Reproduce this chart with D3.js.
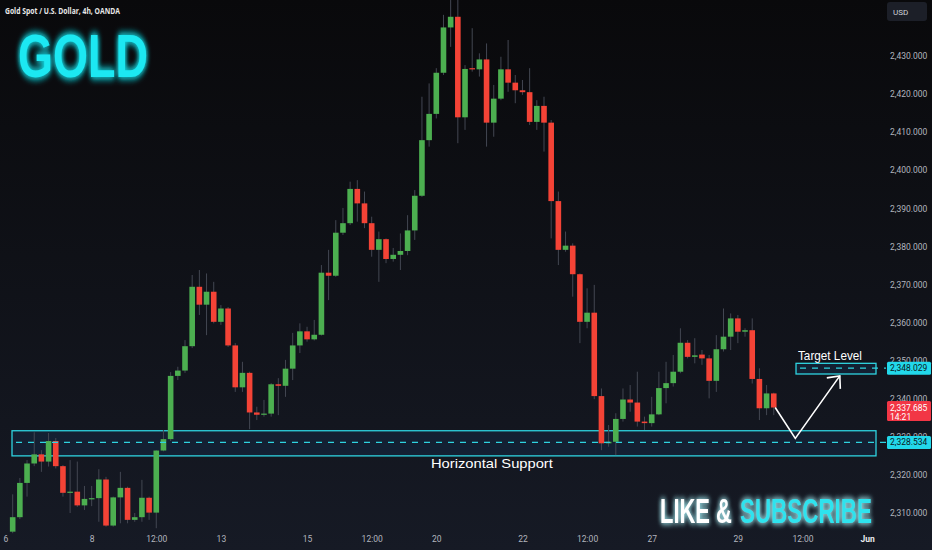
<!DOCTYPE html>
<html><head><meta charset="utf-8">
<script src="https://cdn.jsdelivr.net/npm/d3@7"></script>
<style>html,body{margin:0;padding:0;background:#0b0c10;}svg{display:block}</style>
</head><body>
<svg id="chart" width="932" height="550"></svg>
<script>
// ---- data (4h candles, index 1..107; index 0 = May 6 first bar) ----
const openVals = [2305.1,2308.9,2317.9,2323.0,2325.4,2323.5,2328.9,2322.3,2315.3,2315.6,
2312.0,2313.7,2313.9,2318.8,2306.7,2314.1,2316.6,2308.2,2308.9,2314.0,
2310.1,2326.4,2329.4,2346.0,2347.4,2353.8,2369.4,2364.7,2368.1,2360.2,
2363.7,2354.0,2343.0,2346.8,2336.4,2335.8,2336.1,2343.8,2343.4,2347.9,
2354.0,2357.7,2355.6,2356.8,2373.1,2372.3,2383.6,2386.1,2395.1,2391.3,
2386.1,2379.1,2381.9,2376.7,2377.8,2378.8,2384.2,2393.3,2407.9,2414.8,
2425.6,2437.5,2440.3,2413.9,2426.8,2426.5,2429.1,2412.5,2418.8,2426.5,
2423.0,2421.0,2420.5,2412.7,2416.9,2412.5,2391.9,2379.1,2380.2,2372.7,
2360.2,2362.6,2340.7,2328.3,2328.7,2334.7,2339.8,2339.0,2334.0,2333.6,
2335.9,2342.8,2344.1,2347.1,2354.7,2351.0,2351.6,2350.6,2344.7,2353.0,
2356.3,2361.1,2357.6,2358.0,2345.2,2337.5,2341.4];
const highVals = [2314.9,2319.2,2323.9,2331.2,2326.5,2331.0,2329.7,2322.6,2323.9,2323.5,
2317.1,2317.1,2321.5,2319.5,2314.3,2320.8,2316.9,2310.0,2318.7,2314.3,
2326.5,2331.8,2347.0,2348.4,2355.4,2372.5,2373.8,2372.9,2370.7,2364.6,
2364.1,2354.6,2349.7,2347.1,2337.9,2339.7,2344.1,2345.4,2350.2,2357.3,
2359.8,2358.9,2360.7,2375.1,2379.1,2386.9,2390.1,2397.0,2397.4,2394.4,
2387.8,2383.9,2382.1,2379.6,2383.4,2388.2,2394.8,2419.3,2422.8,2426.8,
2440.8,2444.7,2445.0,2427.6,2437.3,2430.7,2433.3,2422.4,2429.8,2434.2,
2425.0,2423.7,2426.8,2418.4,2419.3,2413.2,2394.4,2383.9,2380.8,2372.9,
2369.0,2369.9,2342.7,2333.1,2336.2,2342.7,2343.6,2347.1,2335.3,2340.5,
2347.1,2349.7,2351.5,2358.5,2355.4,2355.9,2352.8,2351.5,2356.7,2363.7,
2362.4,2362.0,2358.5,2361.1,2348.0,2343.6,2341.6];
const lowVals = [2304.7,2308.4,2314.3,2322.3,2320.8,2322.2,2321.7,2314.3,2310.0,2311.6,
2310.8,2311.8,2307.7,2306.4,2306.4,2307.3,2307.3,2307.7,2307.7,2308.2,
2306.0,2326.2,2328.9,2344.9,2346.8,2353.3,2362.0,2356.7,2359.8,2359.4,
2353.6,2341.8,2341.8,2332.0,2334.4,2335.3,2335.3,2335.7,2340.5,2344.9,
2352.0,2355.0,2355.3,2356.6,2365.9,2372.0,2383.0,2385.6,2386.5,2384.8,
2377.3,2370.7,2375.6,2376.0,2373.8,2377.7,2381.7,2393.0,2406.2,2413.6,
2425.0,2432.4,2407.1,2410.6,2425.9,2424.6,2406.2,2408.8,2418.4,2420.6,
2417.6,2419.8,2411.9,2410.6,2404.9,2382.1,2375.1,2378.6,2366.8,2354.6,
2358.5,2339.9,2326.5,2327.4,2325.2,2334.0,2336.6,2332.7,2331.8,2332.7,
2335.7,2338.8,2343.2,2346.7,2350.6,2349.3,2348.9,2340.1,2341.8,2352.4,
2352.8,2354.6,2356.3,2344.0,2334.4,2335.7,2335.7];
const closeVals = [2308.9,2317.9,2323.0,2325.4,2323.5,2328.9,2322.3,2315.3,2315.6,2312.0,
2313.7,2313.9,2318.8,2306.7,2314.1,2316.6,2308.2,2308.9,2314.0,2310.1,
2326.4,2329.4,2346.0,2347.4,2353.8,2369.4,2364.7,2368.1,2360.2,2363.7,
2354.0,2343.0,2346.8,2336.4,2335.8,2336.1,2343.8,2343.4,2347.9,2354.0,
2357.7,2355.6,2356.8,2373.1,2372.3,2383.6,2386.1,2395.1,2391.3,2386.1,
2379.1,2381.9,2376.7,2377.8,2378.8,2384.2,2393.3,2407.9,2414.8,2425.6,
2437.5,2440.3,2413.9,2426.6,2426.5,2429.1,2412.5,2418.8,2426.5,2423.0,
2421.0,2420.5,2412.7,2416.9,2412.5,2391.9,2379.1,2380.2,2372.7,2360.2,
2362.6,2340.7,2328.3,2328.7,2334.7,2339.8,2339.0,2334.0,2333.6,2335.9,
2342.8,2344.1,2347.1,2354.7,2351.0,2351.4,2350.6,2344.7,2353.0,2356.3,
2361.1,2357.6,2358.0,2345.2,2337.5,2341.4,2337.7];
const firstIndex = 1;

const xTickIndex  = [0, 12, 21, 30, 42, 51, 60, 72, 81, 90, 102, 111, 120];
const xTickLabels = ["6","8","12:00","13","15","12:00","20","22","12:00","27","29","12:00","Jun"];
const yTickValues = [2310,2320,2330,2340,2350,2360,2370,2380,2390,2400,2410,2420,2430];

const supportLevel = 2328.534;
const supportBand  = [2325.0, 2331.6];
const targetLevel  = 2348.029;
const targetBand   = [2346.5, 2349.3];
const lastPrice    = 2337.685;
const lastTimer    = "14:21";
const arrowPath    = [{i:107.2, v:2337.7},{i:110, v:2329.6},{i:116.2, v:2346.0}];

// ---- drawing ----
const W = 932, H = 550;
const svg = d3.select("#chart");
const defs = svg.append("defs");
const bg = defs.append("linearGradient").attr("id","bg").attr("x1",0).attr("y1",0).attr("x2",0).attr("y2",1);
bg.append("stop").attr("offset","0%").attr("stop-color","#09090b");
bg.append("stop").attr("offset","100%").attr("stop-color","#161a25");
function glow(id, color, sd){
  const f = defs.append("filter").attr("id",id).attr("x","-30%").attr("y","-60%").attr("width","160%").attr("height","220%");
  f.append("feGaussianBlur").attr("in","SourceAlpha").attr("stdDeviation",sd).attr("result","b");
  f.append("feFlood").attr("flood-color",color).attr("flood-opacity",0.9);
  f.append("feComposite").attr("in2","b").attr("operator","in").attr("result","g");
  const m = f.append("feMerge");
  m.append("feMergeNode").attr("in","g");
  m.append("feMergeNode").attr("in","g");
  m.append("feMergeNode").attr("in","SourceGraphic");
}
glow("glowCyan","#19e6f0",4);
glow("glowWhite","#9adfe6",3);

svg.append("rect").attr("width",W).attr("height",H).attr("fill","url(#bg)");

const x = d3.scaleLinear().domain([0,120]).range([5.5, 5.5 + 7.18*120]);
const y = d3.scaleLinear().domain([2310,2430]).range([513,56]);

const data = openVals.map((o,k)=>({i:k+firstIndex,o,h:highVals[k],l:lowVals[k],c:closeVals[k]}));

// helper: place a text at (x0, baseline y0) and scale it horizontally to a given width
function fitText(parent, x0, y0, width, str, attrs){
  const gg = parent.append("g");
  const t = gg.append("text").attr("x",0).attr("y",0).text(str);
  Object.entries(attrs).forEach(([k,v])=>t.attr(k,v));
  const w = t.node().getComputedTextLength();
  gg.attr("transform",`translate(${x0},${y0}) scale(${width/w},1)`);
  return gg;
}

// zones
const zoneStroke = "#2fd3e0";
const zx0 = 12, zx1 = 876;
svg.append("rect").attr("x",zx0).attr("y",y(supportBand[1])).attr("width",zx1-zx0)
  .attr("height",y(supportBand[0])-y(supportBand[1]))
  .attr("fill","#14243a").attr("fill-opacity",0.75).attr("stroke",zoneStroke).attr("stroke-width",1.3);
svg.append("rect").attr("x",x(110.1)).attr("y",y(targetBand[1])).attr("width",zx1-x(110.1))
  .attr("height",y(targetBand[0])-y(targetBand[1]))
  .attr("fill","#14243a").attr("fill-opacity",0.75).attr("stroke",zoneStroke).attr("stroke-width",1.3);

// candles
const g = svg.append("g");
const up = "#4caf50", dn = "#f44336";
g.selectAll("line.w").data(data).join("line").attr("class","w")
  .attr("x1",d=>x(d.i)).attr("x2",d=>x(d.i)).attr("y1",d=>y(d.h)).attr("y2",d=>y(d.l))
  .attr("stroke","#434752").attr("stroke-width",1);
const bw = 5.6;
g.selectAll("rect.b").data(data).join("rect").attr("class","b")
  .attr("x",d=>x(d.i)-bw/2).attr("width",bw)
  .attr("y",d=>y(Math.max(d.o,d.c)))
  .attr("height",d=>Math.max(1.2, Math.abs(y(d.o)-y(d.c))))
  .attr("fill",d=>d.c>=d.o?up:dn);

// dashed level lines
svg.append("line").attr("x1",zx0+4).attr("x2",886).attr("y1",y(supportLevel)).attr("y2",y(supportLevel))
  .attr("stroke",zoneStroke).attr("stroke-width",1.4).attr("stroke-dasharray","6,6");
svg.append("line").attr("x1",x(110.1)+4).attr("x2",886).attr("y1",y(targetLevel)).attr("y2",y(targetLevel))
  .attr("stroke",zoneStroke).attr("stroke-width",1.4).attr("stroke-dasharray","6,6");

// arrow
const line = d3.line().x(d=>x(d.i)).y(d=>y(d.v));
svg.append("path").attr("d",line(arrowPath)).attr("fill","none").attr("stroke","#ffffff").attr("stroke-width",1.6);
const tip = arrowPath[2];
const tx = x(tip.i), ty = y(tip.v);
svg.append("path").attr("d",`M${tx-13},${ty+2} L${tx},${ty} L${tx+0.5},${ty+13}`)
  .attr("fill","none").attr("stroke","#ffffff").attr("stroke-width",1.6);

// texts on chart
const sans = "Liberation Sans, Arial, sans-serif";
fitText(svg, 798, 360, 64, "Target Level", {fill:"#ffffff","font-family":sans,"font-size":12});
fitText(svg, 431, 468, 122, "Horizontal Support", {fill:"#ffffff","font-family":sans,"font-size":13});

// y axis
const yAxis = d3.axisRight(y).tickValues(yTickValues).tickFormat(d3.format(",.3f")).tickSize(0).tickPadding(0);
const ya = svg.append("g").attr("transform","translate(890,0)").call(yAxis);
ya.select(".domain").remove();
ya.selectAll("text").attr("fill","#b2b5be").attr("font-size",8.5)
  .attr("font-family","Roboto, Liberation Sans, sans-serif");

// x axis
const xAxis = d3.axisBottom(x).tickValues(xTickIndex).tickFormat((d,k)=>xTickLabels[k]).tickSize(0).tickPadding(0);
const xa = svg.append("g").attr("transform","translate(0,536)").call(xAxis);
xa.select(".domain").remove();
xa.selectAll("text").attr("font-size",8.5)
  .attr("font-family","Roboto, Liberation Sans, sans-serif")
  .attr("font-weight",(d,k)=>xTickLabels[k]==="Jun"?"bold":"normal")
  .attr("fill",(d,k)=>xTickLabels[k]==="Jun"?"#e8e9ec":"#b2b5be");

// price labels
function priceLabel(v, fill, txtColor, lines){
  const hgt = lines.length===1 ? 13 : 20;
  const top = y(v)-6.5;
  svg.append("rect").attr("x",887).attr("y",top).attr("width",44).attr("height",hgt).attr("rx",1.5).attr("fill",fill);
  lines.forEach((t,k)=>{
    svg.append("text").attr("x",890).attr("y",top+9.5+k*9).attr("fill",txtColor)
      .attr("font-size",8.5).attr("font-family","Roboto, Liberation Sans, sans-serif").text(t);
  });
}
priceLabel(targetLevel,"#22d8ea","#0b1a22",[d3.format(",.3f")(targetLevel)]);
priceLabel(lastPrice,"#f23645","#ffffff",[d3.format(",.3f")(lastPrice), lastTimer]);
priceLabel(supportLevel,"#22d8ea","#0b1a22",[d3.format(",.3f")(supportLevel)]);

// USD box
svg.append("rect").attr("x",887).attr("y",2).attr("width",40).attr("height",19).attr("rx",3).attr("fill","#1c1f28");
svg.append("text").attr("x",893).attr("y",14.5).attr("fill","#d1d4dc").attr("font-size",8)
  .attr("font-family","Roboto, Liberation Sans, sans-serif").text("USD");

// header
fitText(svg, 5, 14, 115, "Gold Spot / U.S. Dollar, 4h, OANDA",
  {fill:"#e8e8e8","font-size":8.5,"font-weight":"bold","font-family":"Open Sans, Liberation Sans, sans-serif"});

// GOLD title
fitText(svg, 18, 77, 130, "GOLD",
  {fill:"#1ce8f2","font-size":62,"font-weight":"bold","font-family":"Liberation Sans, Arial, sans-serif",filter:"url(#glowCyan)"});

// LIKE & SUBSCRIBE
fitText(svg, 660, 523, 72, "LIKE &",
  {fill:"#ffffff","font-size":35,"font-weight":"bold","font-family":"Liberation Sans, sans-serif",filter:"url(#glowWhite)"});
fitText(svg, 740, 523, 132, "SUBSCRIBE",
  {fill:"#2de3ee","font-size":35,"font-weight":"bold","font-family":"Liberation Sans, sans-serif",filter:"url(#glowWhite)"});
</script>
</body></html>
